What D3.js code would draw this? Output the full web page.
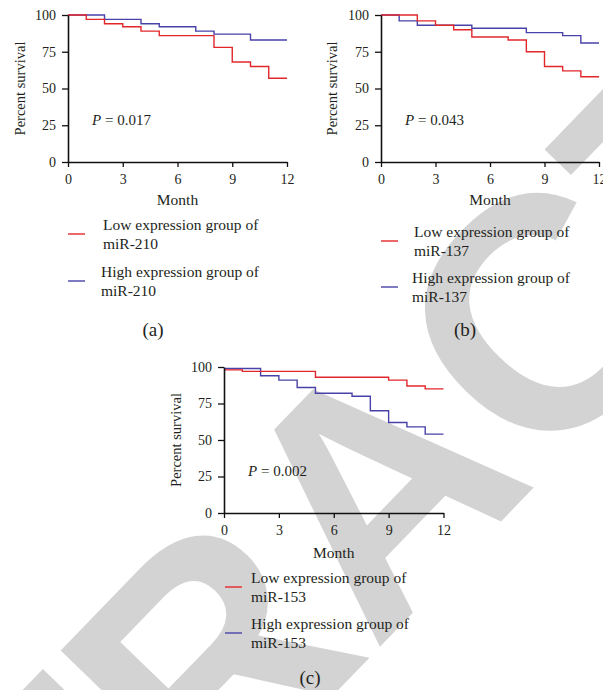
<!DOCTYPE html>
<html>
<head>
<meta charset="utf-8">
<script src="https://cdn.jsdelivr.net/npm/d3@7"></script>
<style>
  html, body { margin: 0; padding: 0; background: #fff; }
  svg { display: block; }
  text { font-family: "Liberation Serif", "Times New Roman", serif; fill: #231f20; }
</style>
</head>
<body>
<script>
// tick values shared by the three panels
const monthTicks = [0, 3, 6, 9, 12];
const survivalTicks = [0, 25, 50, 75, 100];

// Kaplan-Meier steps, [month, percent survival]
const lowA  = [[0, 100], [1, 97], [2, 94], [3, 92], [4, 89], [5, 86], [8, 78], [9, 68], [10, 65], [11, 57], [12, 57]];
const highA = [[0, 100], [2, 97], [4, 94], [5, 92], [7, 89], [8, 87], [10, 83], [12, 83]];
const lowB  = [[0, 100], [2, 96], [3, 93], [4, 90], [5, 85], [7, 83], [8, 75], [9, 65], [10, 62], [11, 58], [12, 58]];
const highB = [[0, 100], [1, 96], [2, 93], [5, 91], [8, 88], [10, 86], [11, 81], [12, 81]];
const lowC  = [[0, 98], [1, 97], [5, 93], [9, 91], [10, 87], [11, 85], [12, 85]];
const highC = [[0, 99], [2, 94], [3, 91], [4, 86], [5, 82], [7, 80], [8, 70], [9, 62], [10, 59], [11, 54], [12, 54]];

const pValues = ["0.017", "0.043", "0.002"];
const genes = ["miR-210", "miR-137", "miR-153"];
const panelLabels = ["(a)", "(b)", "(c)"];

const RED = "#e2272b", BLUE = "#4842a8";

const svg = d3.select("body").append("svg")
    .attr("width", 603)
    .attr("height", 690);

// watermark behind everything
const wmSize = 330;
svg.append("g")
    .attr("transform", "translate(372,485) rotate(-46)")
    .append("text")
    .attr("x", 0)
    .attr("y", wmSize * 0.358)
    .attr("text-anchor", "middle")
    .style("font-family", "'Liberation Sans', Arial, sans-serif")
    .style("font-weight", "bold")
    .style("font-size", wmSize + "px")
    .style("fill", "#d3d3d3")
    .text("RETRACTED");

// layout of each panel (pixel positions)
const panels = [
    { low: lowA, high: highA, x0: 68, x1: 287, yTop: 15, yBot: 162, yLabX: 25,
      pX: 92, pY: 125, monthY: 205, legX0: 68, legX1: 85, redY: 234, blueY: 281,
      lowTx: 103, highTx: 101, labX: 153, labY: 336 },
    { low: lowB, high: highB, x0: 381, x1: 599, yTop: 15, yBot: 162, yLabX: 337,
      pX: 405, pY: 125, monthY: 205, legX0: 381, legX1: 398, redY: 241, blueY: 287,
      lowTx: 414, highTx: 412, labX: 465, labY: 336 },
    { low: lowC, high: highC, x0: 224, x1: 443.5, yTop: 367, yBot: 513, yLabX: 181,
      pX: 248, pY: 476, monthY: 558, legX0: 225, legX1: 242, redY: 587, blueY: 633,
      lowTx: 251, highTx: 251, labX: 310, labY: 684 }
];

panels.forEach((p, i) => {
    let g = svg.append("g");

    let x = d3.scaleLinear().domain([0, 12]).range([p.x0, p.x1]);
    let y = d3.scaleLinear().domain([0, 100]).range([p.yBot, p.yTop]);

    let line = d3.line()
        .curve(d3.curveStepAfter)
        .x(d => x(d[0]))
        .y(d => y(d[1]));

    // high group first so the red one sits on top where they overlap
    [[p.high, BLUE], [p.low, RED]].forEach(([data, col]) => {
        g.append("path")
            .datum(data)
            .attr("fill", "none")
            .attr("stroke", col)
            .attr("stroke-width", 1.4)
            .attr("d", line);
    });

    // axes
    let xAxis = g.append("g")
        .attr("transform", `translate(0,${p.yBot})`)
        .call(d3.axisBottom(x).tickValues(monthTicks).tickSize(5).tickSizeOuter(0).tickPadding(7));
    let yAxis = g.append("g")
        .attr("transform", `translate(${p.x0},0)`)
        .call(d3.axisLeft(y).tickValues(survivalTicks).tickSize(6).tickSizeOuter(0).tickPadding(6));

    [xAxis, yAxis].forEach(a => {
        a.select(".domain").attr("stroke", "#111").attr("stroke-width", 1.6);
        a.selectAll(".tick line").attr("stroke", "#111").attr("stroke-width", 1.3);
        a.selectAll(".tick text")
            .style("font-family", "'Liberation Serif', 'Times New Roman', serif")
            .style("font-size", "14px")
            .attr("fill", "#231f20");
    });

    // axis titles
    g.append("text")
        .attr("transform", `translate(${p.yLabX},${(p.yTop + p.yBot) / 2}) rotate(-90)`)
        .attr("text-anchor", "middle")
        .style("font-size", "14.5px")
        .text("Percent survival");

    g.append("text")
        .attr("x", (p.x0 + p.x1) / 2)
        .attr("y", p.monthY)
        .attr("text-anchor", "middle")
        .style("font-size", "15.5px")
        .text("Month");

    // p value
    let pt = g.append("text")
        .attr("x", p.pX)
        .attr("y", p.pY)
        .style("font-size", "15px");
    pt.append("tspan").style("font-style", "italic").text("P");
    pt.append("tspan").text(" = " + pValues[i]);

    // legend
    let legend = [
        { col: RED, y: p.redY, tx: p.lowTx, first: "Low expression group of" },
        { col: BLUE, y: p.blueY, tx: p.highTx, first: "High expression group of" }
    ];
    legend.forEach(l => {
        g.append("line")
            .attr("x1", p.legX0).attr("x2", p.legX1)
            .attr("y1", l.y).attr("y2", l.y)
            .attr("stroke", l.col)
            .attr("stroke-width", 1.4);
        g.append("text")
            .attr("x", l.tx)
            .attr("y", l.y - 4)
            .style("font-size", "15.5px")
            .text(l.first);
        g.append("text")
            .attr("x", l.tx)
            .attr("y", l.y + 15)
            .style("font-size", "15.5px")
            .text(genes[i]);
    });

    // panel letter
    g.append("text")
        .attr("x", p.labX)
        .attr("y", p.labY)
        .attr("text-anchor", "middle")
        .style("font-size", "19px")
        .text(panelLabels[i]);
});
</script>
</body>
</html>
